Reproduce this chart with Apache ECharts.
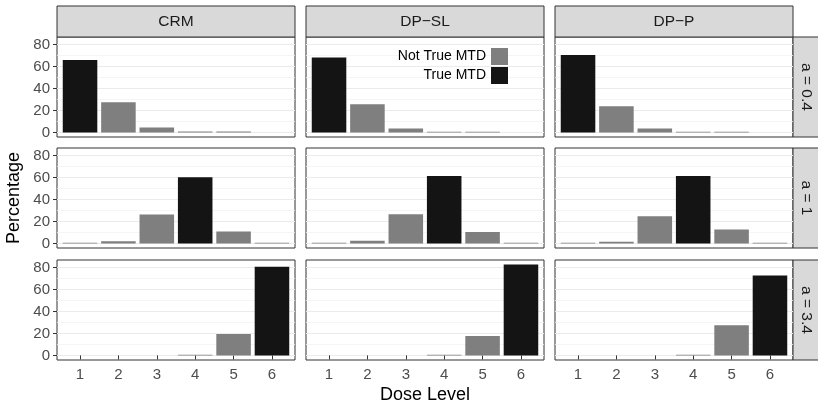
<!DOCTYPE html>
<html>
<head>
<meta charset="utf-8">
<script src="https://cdn.jsdelivr.net/npm/echarts@6/dist/echarts.min.js"></script>
<style>
  html, body { margin: 0; padding: 0; background: #fff; }
  #chart { width: 818px; height: 403px; }
</style>
</head>
<body>
<div id="chart"></div>
<script>
  const doses = [1, 2, 3, 4, 5, 6];
  const methods = ["CRM", "DP\u2212SL", "DP\u2212P"];
  const aLabels = ["a = 0.4", "a = 1", "a = 3.4"];
  const trueMtd = [1, 4, 6];
  const yTicks = [0, 20, 40, 60, 80];
  const yMinorTicks = [10, 30, 50, 70];

  // percentage selected per dose level, one array per (a, method)
  const crmA04 = [66.0, 27.6, 4.4, 0.8, 0.8, 0];
  const dpslA04 = [68.4, 25.8, 3.6, 0.7, 0.7, 0];
  const dppA04 = [70.6, 24.0, 3.6, 0.7, 0.7, 0];
  const crmA1 = [0.7, 2.1, 26.3, 60.3, 11.0, 0.7];
  const dpslA1 = [0.7, 2.4, 26.6, 61.5, 10.5, 0.7];
  const dppA1 = [0.7, 1.5, 24.7, 61.5, 12.8, 0.7];
  const crmA34 = [0, 0, 0, 0.7, 19.6, 81.0];
  const dpslA34 = [0, 0, 0, 0.7, 17.8, 82.9];
  const dppA34 = [0, 0, 0, 0.7, 27.6, 72.9];

  const panelValues = [
    [crmA04, dpslA04, dppA04],
    [crmA1, dpslA1, dppA1],
    [crmA34, dpslA34, dppA34],
  ];

  const FONT = "'Liberation Sans', Arial, sans-serif";
  const colLeft = [57, 306, 555];
  const rowTop = [37, 148, 260];
  const panelW = 238;
  const panelH = 100;
  const barW = 0.9 * panelW / 6.2;

  const grids = [];
  const xAxes = [];
  const yAxes = [];
  const series = [];
  const graphics = [];

  for (let r = 0; r < 3; r++) {
    for (let c = 0; c < 3; c++) {
      const i = r * 3 + c;
      const isBottom = r === 2;
      const isLeft = c === 0;
      grids.push({
        left: colLeft[c], top: rowTop[r], width: panelW, height: panelH,
        show: true, backgroundColor: "#fff", borderColor: "#333", borderWidth: 1,
      });
      xAxes.push({
        type: "value", gridIndex: i, min: 0.4, max: 6.6,
        axisLine: { show: false },
        splitLine: { show: false },
        axisTick: {
          show: isBottom, customValues: doses, length: 4,
          lineStyle: { color: "#333", width: 1 },
        },
        axisLabel: {
          show: isBottom, customValues: doses, margin: 7,
          color: "#4d4d4d", fontSize: 15, fontFamily: FONT,
        },
      });
      yAxes.push({
        type: "value", gridIndex: i, min: -4.15, max: 87.05,
        axisLine: { show: false },
        axisTick: {
          show: isLeft, customValues: yTicks, length: 4,
          lineStyle: { color: "#333", width: 1 },
        },
        axisLabel: {
          show: isLeft, customValues: yTicks, margin: 7,
          color: "#4d4d4d", fontSize: 15, fontFamily: FONT,
        },
        splitLine: { show: true, lineStyle: { color: "#ebebeb", width: 1.2 } },
      });
      yAxes.push({
        type: "value", gridIndex: i, min: -4.15, max: 87.05,
        axisLine: { show: false },
        axisTick: { show: false, customValues: yMinorTicks },
        axisLabel: { show: false, customValues: yMinorTicks },
        splitLine: { show: true, lineStyle: { color: "#f3f3f3", width: 0.8 } },
      });

      const vals = panelValues[r][c];
      const trueData = [];
      const otherData = [];
      vals.forEach((v, k) => {
        if (doses[k] === trueMtd[r]) trueData.push([doses[k], v]);
        else otherData.push([doses[k], v]);
      });
      series.push({
        name: "Not True MTD", type: "bar", xAxisIndex: i, yAxisIndex: 2 * i,
        barWidth: barW, barGap: "-100%", data: otherData,
        itemStyle: { color: "#7f7f7f" }, silent: true,
      });
      series.push({
        name: "True MTD", type: "bar", xAxisIndex: i, yAxisIndex: 2 * i,
        barWidth: barW, barGap: "-100%", data: trueData,
        itemStyle: { color: "#141414" }, silent: true,
      });
    }
  }

  // strips on top (methods)
  methods.forEach((m, c) => {
    graphics.push({
      type: "rect", shape: { x: colLeft[c], y: 6, width: panelW, height: 31 },
      style: { fill: "#d9d9d9", stroke: "#333", lineWidth: 1 }, silent: true,
    });
    graphics.push({
      type: "text", x: colLeft[c] + panelW / 2, y: 21.5,
      style: { text: m, fill: "#1a1a1a", font: "15.5px " + FONT, textAlign: "center", textVerticalAlign: "middle" },
      silent: true,
    });
  });

  // strips on right (a values)
  aLabels.forEach((a, r) => {
    graphics.push({
      type: "rect", shape: { x: 793, y: rowTop[r], width: 26, height: panelH },
      style: { fill: "#d9d9d9", stroke: "#333", lineWidth: 1 }, silent: true,
    });
    graphics.push({
      type: "text", x: 806, y: rowTop[r] + panelH / 2, rotation: -Math.PI / 2,
      style: { text: a, fill: "#1a1a1a", font: "15.5px " + FONT, textAlign: "center", textVerticalAlign: "middle" },
      silent: true,
    });
  });

  graphics.push({
    type: "text", x: 14, y: 198, rotation: Math.PI / 2,
    style: { text: "Percentage", fill: "#000", font: "18px " + FONT, textAlign: "center", textVerticalAlign: "middle" },
    silent: true,
  });
  graphics.push({
    type: "text", x: 425, y: 395,
    style: { text: "Dose Level", fill: "#000", font: "18px " + FONT, textAlign: "center", textVerticalAlign: "middle" },
    silent: true,
  });

  const chart = echarts.init(document.getElementById("chart"), null, { renderer: "canvas" });
  chart.setOption({
    animation: false,
    backgroundColor: "#fff",
    grid: grids,
    xAxis: xAxes,
    yAxis: yAxes,
    series: series,
    graphic: graphics,
    legend: {
      data: ["Not True MTD", "True MTD"],
      orient: "vertical", align: "right",
      right: 310, top: 48,
      itemWidth: 17, itemHeight: 17, itemGap: 2,
      icon: "rect", padding: 0,
      textStyle: { color: "#000", fontSize: 14, fontFamily: FONT },
      selectedMode: false,
    },
  });
</script>
</body>
</html>
